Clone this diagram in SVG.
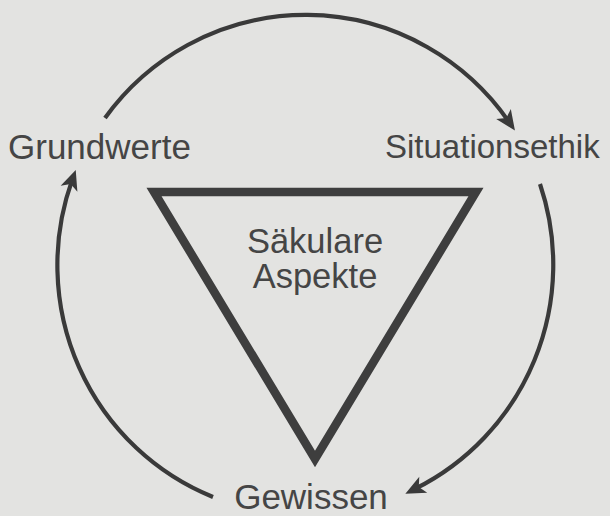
<svg xmlns="http://www.w3.org/2000/svg" width="610" height="516" viewBox="0 0 610 516">
  <style>
    .lbl { font-family: "Liberation Sans", Arial, sans-serif; fill: #454545; }
    .arc { fill: none; stroke: #3a3a3a; stroke-width: 4.2; stroke-linecap: butt; }
    .tri { fill: none; stroke: #3e3e3e; stroke-width: 8.5; stroke-linejoin: miter; stroke-miterlimit: 10; }
  </style>
  <defs>
    <marker id="arrow" markerUnits="userSpaceOnUse" markerWidth="22" markerHeight="20" viewBox="0 -9 19 18" refX="8" refY="0" orient="auto">
      <path d="M0,-8 L18,0 L0,8 L4.5,0 Z" fill="#3a3a3a"/>
    </marker>
  </defs>
  <rect width="610" height="516" fill="#e3e3e1"/>
  <g id="connectors">
    <path class="arc" d="M105,118 A248,250 0 0 1 508.6,121.3" marker-end="url(#arrow)"/>
    <path class="arc" d="M540,184 A248,250 0 0 1 415.3,488.7" marker-end="url(#arrow)"/>
    <path class="arc" d="M213,497 A248,250 0 0 1 72,180.4" marker-end="url(#arrow)"/>
  </g>
  <g id="saekulare-aspekte">
    <polygon class="tri" points="154,192 476,192 315,459"/>
    <text class="lbl" x="315" y="253" font-size="34.5" text-anchor="middle">Säkulare</text>
    <text class="lbl" x="315" y="288" font-size="34.5" text-anchor="middle">Aspekte</text>
  </g>
  <g id="grundwerte">
    <text class="lbl" x="8" y="159" font-size="35">Grundwerte</text>
  </g>
  <g id="situationsethik">
    <text class="lbl" x="385" y="158" font-size="33">Situationsethik</text>
  </g>
  <g id="gewissen">
    <text class="lbl" x="311" y="509" font-size="35" text-anchor="middle">Gewissen</text>
  </g>
</svg>
